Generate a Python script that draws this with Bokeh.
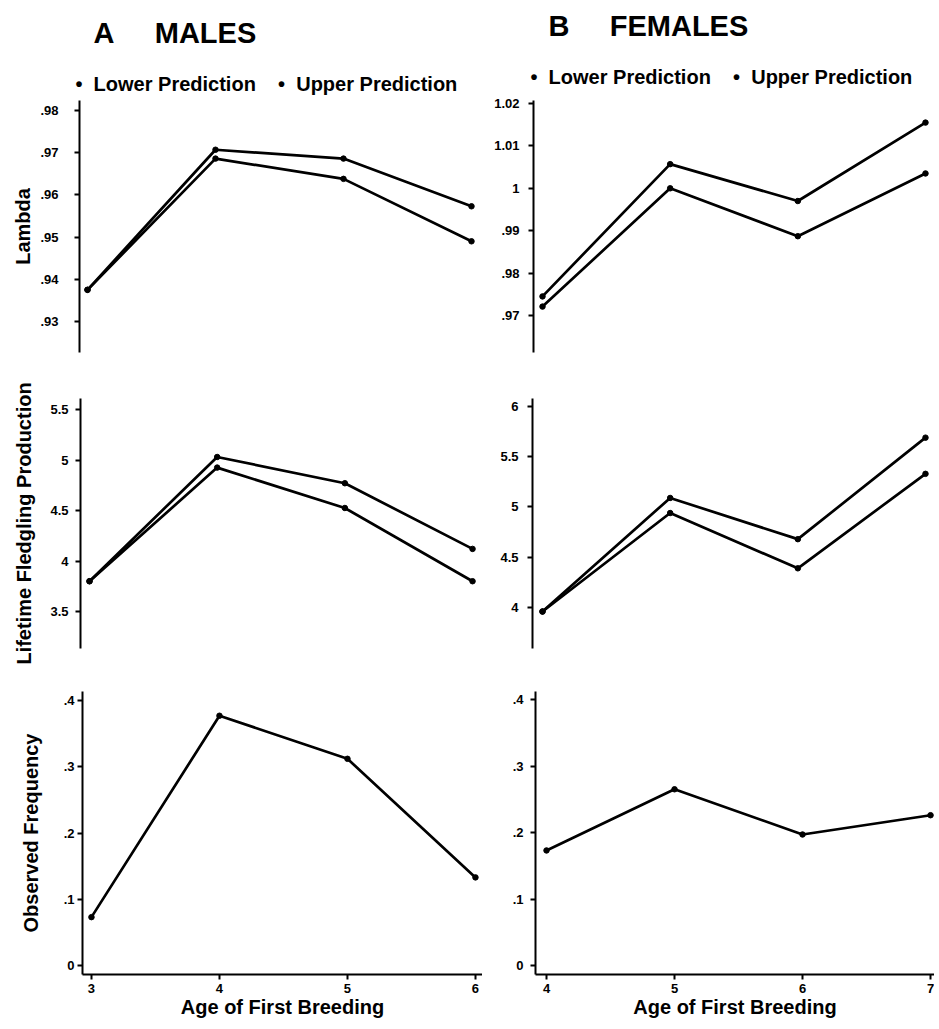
from bokeh.plotting import figure
from bokeh.layouts import column, row
from bokeh.models import Range1d, FixedTicker, Title
from bokeh.embed import file_html
from bokeh.resources import INLINE

FONT = "Liberation Sans"

# ---------------- data ----------------
ages_males = [3, 4, 5, 6]
ages_females = [4, 5, 6, 7]

lambda_males_lower = [0.9375, 0.9686, 0.9638, 0.9490]
lambda_males_upper = [0.9375, 0.9707, 0.9686, 0.9573]
lambda_females_lower = [0.9721, 1.0000, 0.9887, 1.0035]
lambda_females_upper = [0.9745, 1.0057, 0.9970, 1.0155]

lfp_males_lower = [3.80, 4.925, 4.525, 3.80]
lfp_males_upper = [3.80, 5.03, 4.77, 4.12]
lfp_females_lower = [3.96, 4.94, 4.39, 5.33]
lfp_females_upper = [3.96, 5.09, 4.68, 5.69]

obs_males = [0.073, 0.377, 0.312, 0.133]
obs_females = [0.173, 0.265, 0.197, 0.226]

lambda_males_ticks = [0.93, 0.94, 0.95, 0.96, 0.97, 0.98]
lambda_males_tick_labels = [".93", ".94", ".95", ".96", ".97", ".98"]
lambda_females_ticks = [0.97, 0.98, 0.99, 1.0, 1.01, 1.02]
lambda_females_tick_labels = [".97", ".98", ".99", "1", "1.01", "1.02"]
lfp_males_ticks = [3.5, 4, 4.5, 5, 5.5]
lfp_males_tick_labels = ["3.5", "4", "4.5", "5", "5.5"]
lfp_females_ticks = [4, 4.5, 5, 5.5, 6]
lfp_females_tick_labels = ["4", "4.5", "5", "5.5", "6"]
obs_ticks = [0, 0.1, 0.2, 0.3, 0.4]
obs_tick_labels = ["0", ".1", ".2", ".3", ".4"]
age_tick_labels_males = ["3", "4", "5", "6"]
age_tick_labels_females = ["4", "5", "6", "7"]

NB = "\u00a0"
legend_labels = ["Lower Prediction", "Upper Prediction"]
legend_text = (NB * 4).join("\u2022" + NB * 2 + lab for lab in legend_labels)
title_males = "A" + NB * 5 + "MALES"
title_females = "B" + NB * 5 + "FEMALES"
ylabel_lambda = "Lambda"
ylabel_lfp = "Lifetime Fledgling Production"
ylabel_obs = "Observed Frequency"
xlabel = "Age of First Breeding"

LW = 2.7


def make_fig(w, h, xr, yr, bl, br, bt, bb, yticks, ylabels, xticks=None,
             xlabels=None, ylabel=None, ylabel_standoff=10, tick_standoff=6):
    p = figure(width=w, height=h, x_range=Range1d(*xr), y_range=Range1d(*yr),
               output_backend="svg", toolbar_location=None, title=None,
               x_axis_location=("below" if xticks is not None else None),
               min_border_left=bl, min_border_right=br,
               min_border_top=bt, min_border_bottom=bb)
    p.outline_line_color = None
    p.xgrid.visible = False
    p.ygrid.visible = False
    p.background_fill_color = "white"
    p.border_fill_color = "white"
    ax = p.yaxis[0]
    ax.ticker = FixedTicker(ticks=yticks)
    ax.major_label_overrides = {t: l for t, l in zip(yticks, ylabels)}
    axes = [ax]
    if xticks is not None:
        xa = p.xaxis[0]
        xa.ticker = FixedTicker(ticks=xticks)
        xa.major_label_overrides = {t: l for t, l in zip(xticks, xlabels)}
        axes.append(xa)
    for a in axes:
        a.axis_line_width = 2
        a.axis_line_color = "black"
        a.major_tick_line_width = 2
        a.major_tick_line_color = "black"
        a.major_tick_in = 0
        a.major_tick_out = 5
        a.minor_tick_line_color = None
        a.major_label_text_font = FONT
        a.major_label_text_font_style = "bold"
        a.major_label_text_font_size = "13px"
        a.major_label_text_color = "black"
        a.axis_label_text_font = FONT
        a.axis_label_text_font_style = "bold"
        a.axis_label_text_color = "black"
        a.axis_label_text_font_size = "20px"
    if xticks is not None:
        xa.axis_label = xlabel
        xa.axis_label_standoff = 0
        xa.major_label_standoff = 4
    ax.major_label_standoff = tick_standoff
    if ylabel is not None:
        ax.axis_label = ylabel
        ax.axis_label_standoff = ylabel_standoff
    return p


def draw(p, x, ys):
    for y in ys:
        p.line(x, y, line_color="black", line_width=LW)
        p.scatter(x, y, size=5.5, marker="circle", color="black")


def add_heading(p, title, title_offset, title_standoff, legend_offset,
                legend_standoff):
    p.add_layout(Title(text=legend_text, text_font=FONT, text_font_style="bold",
                       text_font_size="20px", text_color="black",
                       align="left", vertical_align="bottom",
                       offset=legend_offset, standoff=legend_standoff), "above")
    p.add_layout(Title(text=title, text_font=FONT, text_font_style="bold",
                       text_font_size="29px", text_color="black",
                       align="left", vertical_align="top",
                       offset=title_offset, standoff=title_standoff), "above")


# ---------------- row 1: Lambda (frame 100..352) ----------------
f1 = make_fig(482, 362, (2.9375, 6.086), (0.92265, 0.98237), 79, 0, 100, 10,
              lambda_males_ticks, lambda_males_tick_labels,
              ylabel=ylabel_lambda, ylabel_standoff=3, tick_standoff=16)
draw(f1, ages_males, [lambda_males_lower, lambda_males_upper])
add_heading(f1, title_males, 14, 30.35, -4, 10.95)

f2 = make_fig(452, 362, (3.9295, 7.0705), (0.96127, 1.02071), 51, 0, 100, 10,
              lambda_females_ticks, lambda_females_tick_labels, tick_standoff=9)
draw(f2, ages_females, [lambda_females_lower, lambda_females_upper])
add_heading(f2, title_females, 15, 16.35, -3, 24.95)

# ---------------- row 2: LFP (frame 398..648) ----------------
f3 = make_fig(482, 310, (2.9295, 6.078), (3.134, 5.609), 80, 0, 36, 24,
              lfp_males_ticks, lfp_males_tick_labels,
              ylabel=ylabel_lfp, ylabel_standoff=12, tick_standoff=7)
draw(f3, ages_males, [lfp_males_lower, lfp_males_upper])

f4 = make_fig(452, 310, (3.9217, 7.0705), (3.592, 6.0796), 50, 0, 36, 24,
              lfp_females_ticks, lfp_females_tick_labels, tick_standoff=9)
draw(f4, ages_females, [lfp_females_lower, lfp_females_upper])

# ---------------- row 3: Observed frequency (frame 691..974) ----------------
f5 = make_fig(482, 352, (2.93, 6.055), (-0.01358, 0.41358), 82, 0, 19, 50,
              obs_ticks, obs_tick_labels, xticks=ages_males,
              xlabels=age_tick_labels_males,
              ylabel=ylabel_obs, ylabel_standoff=19, tick_standoff=3)
f5.line(ages_males, obs_males, line_color="black", line_width=LW)
f5.scatter(ages_males, obs_males, size=5.5, marker="circle", color="black")

f6 = make_fig(452, 352, (3.914, 7.031), (-0.01353, 0.41203), 53, 0, 19, 50,
              obs_ticks, obs_tick_labels, xticks=ages_females,
              xlabels=age_tick_labels_females, tick_standoff=7)
f6.line(ages_females, obs_females, line_color="black", line_width=LW)
f6.scatter(ages_females, obs_females, size=5.5, marker="circle", color="black")

layout = column(row(f1, f2, spacing=0), row(f3, f4, spacing=0),
                row(f5, f6, spacing=0), spacing=0)

open("out.html", "w").write(file_html(layout, INLINE))
